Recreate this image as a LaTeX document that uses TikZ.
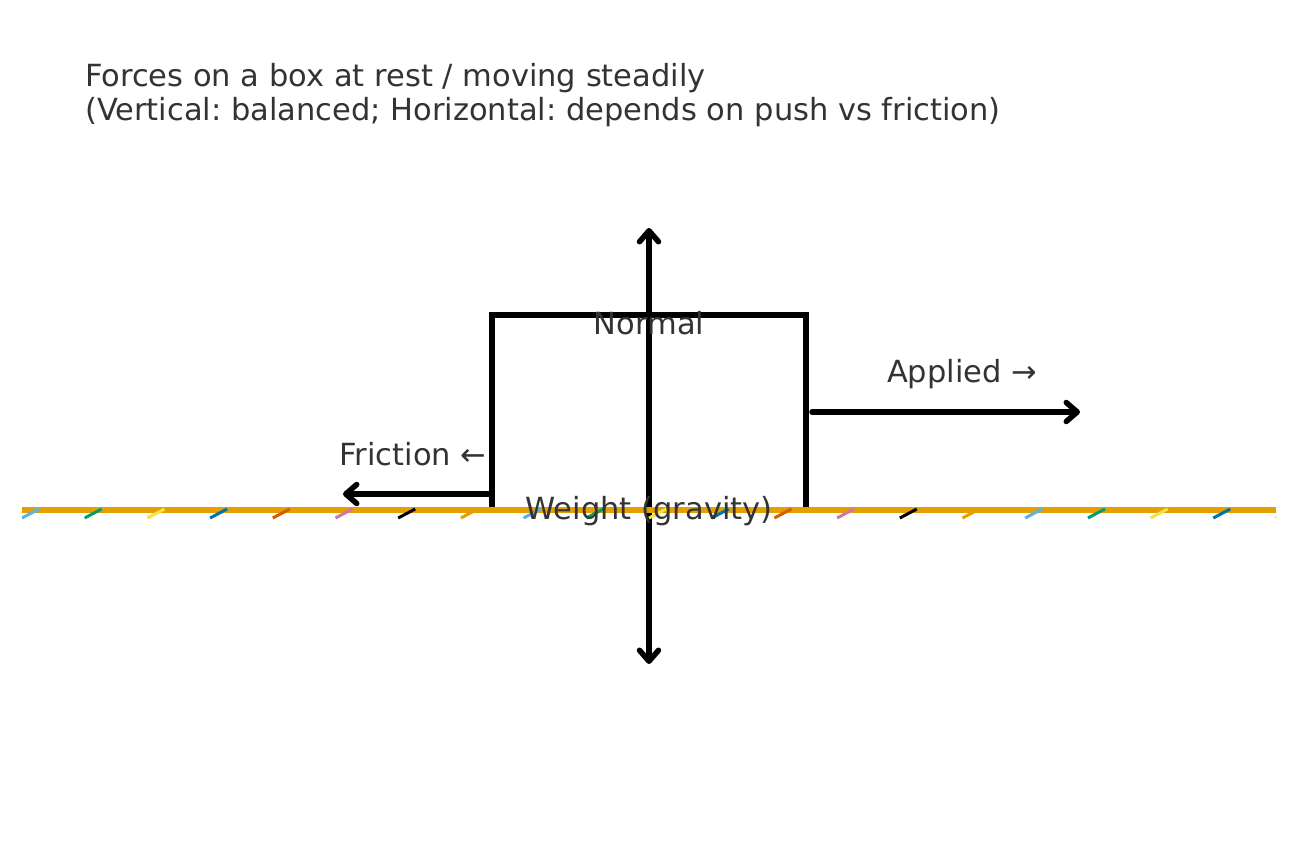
\documentclass[tikz,border=0pt]{standalone}
\usepackage{fontspec}
\setmainfont{DejaVu Sans}
\frenchspacing
\usetikzlibrary{arrows.meta,positioning}

\definecolor{textgray}{HTML}{333333}
\definecolor{groundorange}{HTML}{E69F00}
\definecolor{oiSky}{RGB}{86,180,233}
\definecolor{oiGreen}{RGB}{0,158,115}
\definecolor{oiYellow}{RGB}{240,228,66}
\definecolor{oiBlue}{RGB}{0,114,178}
\definecolor{oiRed}{RGB}{213,94,0}
\definecolor{oiPink}{RGB}{204,121,167}
\definecolor{oiBlack}{RGB}{0,0,0}
\definecolor{oiOrange}{RGB}{230,159,0}

\begin{document}
\begin{tikzpicture}[
      x=1bp, y=-1bp,
      force/.style={draw, line width=5.5bp, line cap=round,
          -{Straight Barb[length=11bp, width=19bp, round]}},
      lbl/.style={text=textgray, inner sep=0pt,
          font=\fontsize{30.5bp}{34bp}\selectfont},
      crate/.style={draw, line width=6bp, minimum width=314bp,
          minimum height=195bp, inner sep=0pt},
    ]
    \useasboundingbox (0,0) rectangle (1297,858);

    % title
    \node[lbl, anchor=base west] (title1) at (85,86.5)
        {Forces on a box at rest / moving steadily};
    \node[lbl, anchor=base west] (title2) at ([yshift=-34bp]title1.base west)
        {(Vertical: balanced; Horizontal: depends on push vs friction)};

    % the box
    \node[crate] (box) at (649,412.5) {};

    % force ends
    \coordinate (ntip) at (649,228);
    \coordinate (wtip) at (649,664);
    \coordinate (atip) at (1080,412);
    \coordinate (fstart) at (490,494);
    \coordinate (ftip) at (343,494);

    \draw[force] (box.center) -- (ntip);
    \draw[force] (box.center) -- (wtip);
    \draw[force] (box.east |- atip) ++(3,0) -- (atip);
    \draw[force] (fstart) -- (ftip);

    % ground with coloured marks
    \coordinate (gl) at (22,510);
    \coordinate (gr) at (1276,510);
    \draw[groundorange, line width=6bp] (gl) -- (gr);
    \begin{scope}
      \clip (gl |- 0,480) rectangle (gr |- 0,540);
      \foreach \c [count=\i from 0] in {oiSky,oiGreen,oiYellow,oiBlue,oiRed,oiPink,oiBlack,oiOrange,
                                        oiSky,oiGreen,oiYellow,oiBlue,oiRed,oiPink,oiBlack,oiOrange,
                                        oiSky,oiGreen,oiYellow,oiBlue,oiRed}
        \draw[\c, line width=3bp] ([xshift=62.7*\i bp, yshift=-8bp]gl) -- ++(17,-9);
    \end{scope}

    % labels
    \node[lbl, anchor=base] (normal) at (649,334.5) {Normal};
    \node[lbl, anchor=base] (weight) at (649,519.5) {Weight (gravity)};
    \node[lbl, anchor=base] (applied) at (962,382.5) {Applied →};
    \node[lbl, anchor=base] (friction) at (413,465.5) {Friction ←};
  \end{tikzpicture}
\end{document}
